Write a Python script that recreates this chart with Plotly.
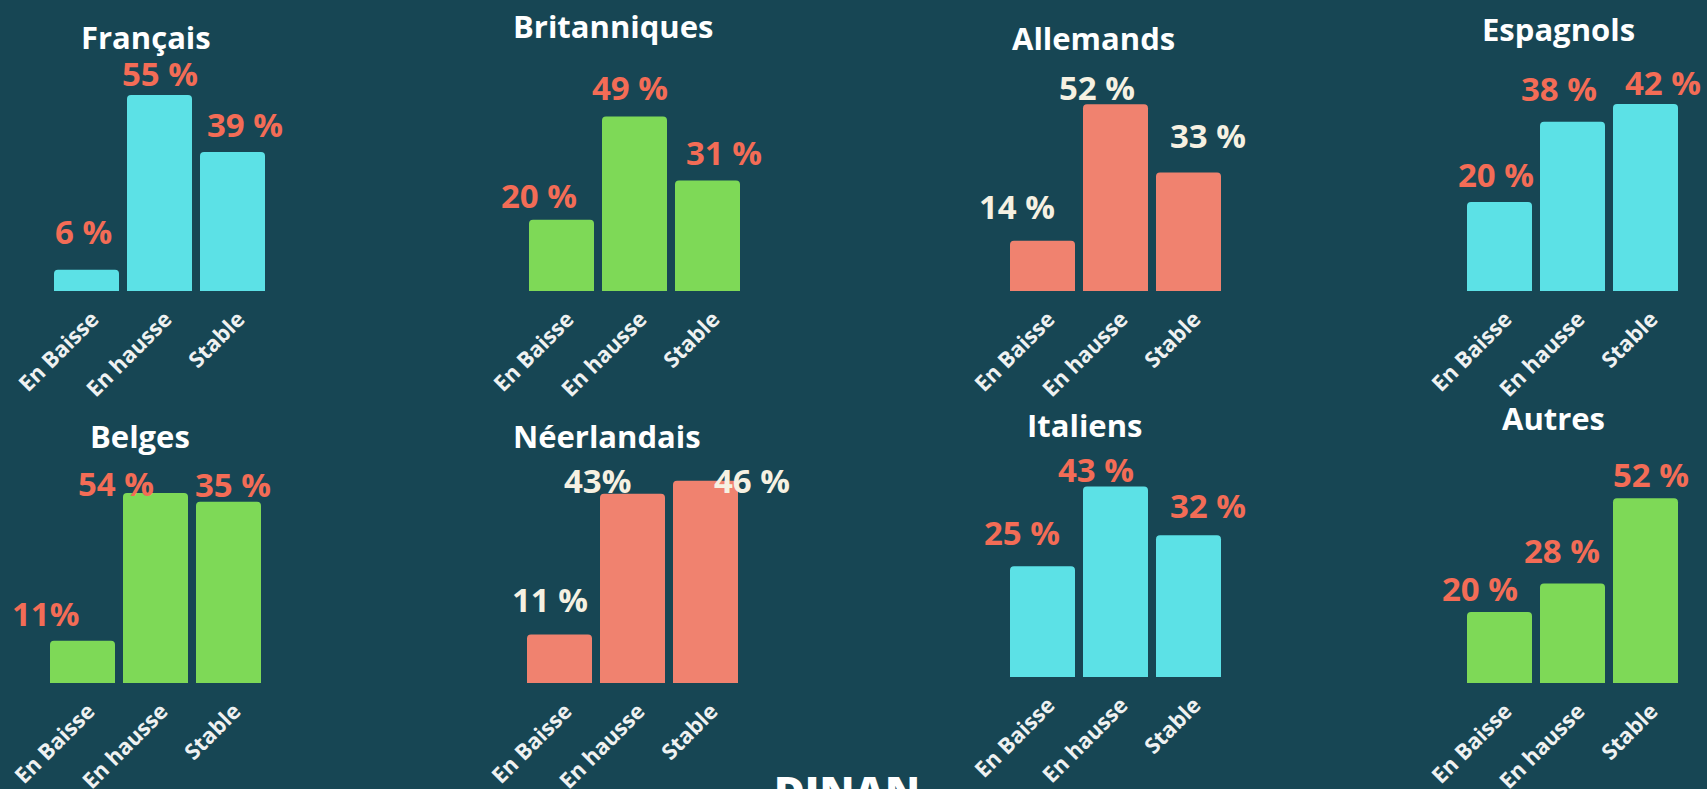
import plotly.graph_objects as go

W, H = 1707, 789
BG = "#174654"
CYAN, GREEN, SALMON = "#5CE1E6", "#7ED957", "#F0826F"
TXT_SALMON, TXT_CREAM = "#F36C56", "#F6F1E2"
FONT = "Open Sans"

categories = ["En Baisse", "En hausse", "Stable"]

francais = [6, 55, 39]
britanniques = [20, 49, 31]
allemands = [14, 52, 33]
espagnols = [20, 38, 42]
belges = [11, 54, 35]
neerlandais = [11, 43, 46]
italiens = [25, 43, 32]
autres = [20, 28, 52]

labels_francais = ["6 %", "55 %", "39 %"]
labels_britanniques = ["20 %", "49 %", "31 %"]
labels_allemands = ["14 %", "52 %", "33 %"]
labels_espagnols = ["20 %", "38 %", "42 %"]
labels_belges = ["11%", "54 %", "35 %"]
labels_neerlandais = ["11 %", "43%", "46 %"]
labels_italiens = ["25 %", "43 %", "32 %"]
labels_autres = ["20 %", "28 %", "52 %"]

# bar heights as drawn in the picture (the Belges "Stable" bar is drawn taller than 35)
heights_belges = [12, 54, 51.5]

# name, values, heights, labels, bar colour, text colour,
# left px, baseline px, y max, title (x, y) px, label shifts (dx, dy) px
panels = [
    ("Français", francais, francais, labels_francais, CYAN, TXT_SALMON,
     50, 291, 73.0, (146, 37), [(-3, 38), (0, 22), (12, 28)]),
    ("Britanniques", britanniques, britanniques, labels_britanniques, GREEN, TXT_SALMON,
     525, 291, 73.0, (613, 26), [(-23, 24), (-5, 29), (16, 28)]),
    ("Allemands", allemands, allemands, labels_allemands, SALMON, TXT_CREAM,
     1006, 291, 72.4, (1093, 38), [(-26, 34), (-19, 17), (19, 37)]),
    ("Espagnols", espagnols, espagnols, labels_espagnols, CYAN, TXT_SALMON,
     1463, 291, 58.4, (1558, 29), [(-4, 27), (-14, 33), (17, 22)]),
    ("Belges", belges, heights_belges, labels_belges, GREEN, TXT_SALMON,
     46, 683, 73.9, (140, 436), [(-37, 27), (-40, 10), (4, 17)]),
    ("Néerlandais", neerlandais, neerlandais, labels_neerlandais, SALMON, TXT_CREAM,
     523, 683, 59.1, (607, 436), [(-10, 35), (-35, 13), (46, 0)]),
    ("Italiens", italiens, italiens, labels_italiens, CYAN, TXT_SALMON,
     1006, 677, 58.7, (1084, 425), [(-21, 34), (-20, 17), (19, 30)]),
    ("Autres", autres, autres, labels_autres, GREEN, TXT_SALMON,
     1463, 683, 73.2, (1553, 418), [(-20, 23), (-11, 33), (5, 24)]),
]

PANEL_W = 219   # 3 bars of 65 px with 8 px gaps
PANEL_H = 260

fig = go.Figure()
annotations = []
layout_axes = {}

for i, (name, vals, hts, labels, bar_col, txt_col, left, base, ymax, tpos, shifts) in enumerate(panels, start=1):
    sfx = "" if i == 1 else str(i)
    fig.add_trace(go.Bar(
        x=categories, y=hts,
        xaxis=f"x{sfx}", yaxis=f"y{sfx}",
        marker=dict(color=bar_col, cornerradius=4, line=dict(width=0)),
        hoverinfo="skip",
        showlegend=False,
    ))
    # fixed range: annotations on data axes would otherwise widen the autorange
    layout_axes[f"xaxis{sfx}"] = dict(
        domain=[left / W, (left + PANEL_W) / W],
        anchor=f"y{sfx}",
        range=[-0.5, 2.5],
        tickangle=-45,
        tickfont=dict(family=FONT, size=22, color="#EEF1F1", weight=700),
        ticklabelstandoff=10,
        ticklabelshift=6,
        showgrid=False, zeroline=False, showline=False, ticks="",
        automargin=False,
        fixedrange=True,
    )
    layout_axes[f"yaxis{sfx}"] = dict(
        domain=[1 - base / H, 1 - (base - PANEL_H) / H],
        anchor=f"x{sfx}",
        range=[0, ymax],
        visible=False,
        automargin=False,
        fixedrange=True,
    )
    for cat, h, lab, (dx, dy) in zip(categories, hts, labels, shifts):
        annotations.append(dict(
            xref=f"x{sfx}", yref=f"y{sfx}", x=cat, y=h,
            text=lab, showarrow=False,
            xanchor="center", yanchor="middle",
            xshift=dx, yshift=dy,
            font=dict(family=FONT, size=33, color=txt_col, weight=700),
        ))
    annotations.append(dict(
        xref="paper", yref="paper", x=tpos[0] / W, y=1 - tpos[1] / H,
        text=name, showarrow=False, xanchor="center", yanchor="middle",
        font=dict(family=FONT, size=31, color="#FFFFFF", weight=700),
    ))

# logo at the bottom, cut by the frame
annotations.append(dict(
    xref="paper", yref="paper", x=847 / W, y=1 - 760 / H,
    text="DINAN", showarrow=False, xanchor="center", yanchor="top",
    font=dict(family=FONT, size=42, color="#FFFFFF", weight=800),
))

fig.update_layout(
    width=W, height=H,
    margin=dict(l=0, r=0, t=0, b=0, autoexpand=False),
    paper_bgcolor=BG, plot_bgcolor=BG,
    bargap=8 / 73,
    annotations=annotations,
    **layout_axes,
)

fig.write_html(
    "out.html",
    config={"displayModeBar": False},
    post_script=f"document.body.style.margin='0';document.body.style.background='{BG}';",
)
